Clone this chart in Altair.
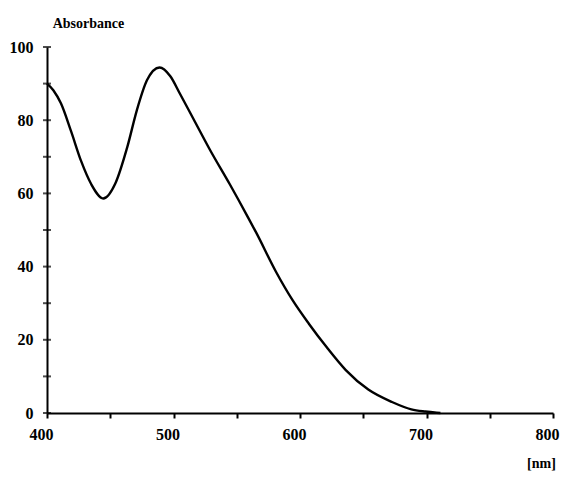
import altair as alt
import pandas as pd

wavelength = [400, 405, 411, 419, 427, 435, 444.5, 454, 463.5, 471, 479, 489, 497.5, 505, 516,
              529, 544.5, 559, 565.5, 581, 594, 607, 621, 636, 654, 672.7, 688, 699, 708, 711]
absorbance = [90, 88.2, 84.6, 77.0, 68.8, 62.5, 58.6, 62.7, 72.7, 82.7, 90.9, 94.4, 92.0, 87.3, 80.2,
              71.8, 62.5, 53.4, 49.2, 38.6, 30.9, 24.4, 18.0, 11.8, 6.4, 3.0, 1.0, 0.4, 0.08, 0]

x_ticks = list(range(400, 801, 25))
y_ticks = list(range(0, 101, 10))

df = pd.DataFrame({"nm": wavelength, "abs": absorbance})
ticks_df = pd.DataFrame({"nm": [400] * len(y_ticks), "abs": y_ticks})

FONT = "Liberation Serif"

xscale = alt.Scale(domain=[400, 800], nice=False, zero=False)
yscale = alt.Scale(domain=[0, 100], nice=False)

line = alt.Chart(df).mark_line(color="black", strokeWidth=2.4, interpolate="monotone").encode(
    x=alt.X("nm:Q", scale=xscale,
            axis=alt.Axis(values=x_ticks, labelExpr="datum.value % 100 == 0 ? datum.label : ''",
                          title="[nm]", titleAngle=0, titleX=494, titleY=50,
                          titleAlign="center", titleBaseline="middle",
                          titleFont=FONT, titleFontSize=14, titleFontWeight="bold",
                          labelFont=FONT, labelFontSize=16, labelFontWeight="bold",
                          labelOffset=-6, labelPadding=8, labelColor="black", labelFlush=False,
                          tickSize=5, tickWidth=2, tickColor="black",
                          domainColor="black", domainWidth=2, grid=False, titleColor="black")),
    y=alt.Y("abs:Q", scale=yscale,
            axis=alt.Axis(values=y_ticks, labelExpr="datum.value % 20 == 0 ? datum.label : ''",
                          title="Absorbance", titleAngle=0, titleX=41, titleY=-24,
                          titleAlign="center", titleBaseline="middle",
                          titleFont=FONT, titleFontSize=14, titleFontWeight="bold",
                          labelFont=FONT, labelFontSize=16, labelFontWeight="bold",
                          labelPadding=14, labelColor="black", labelFlush=False,
                          tickSize=0, domainColor="black", domainWidth=2, grid=False,
                          titleColor="black")),
)

yticks = alt.Chart(ticks_df).mark_tick(color="black", orient="horizontal", size=8, thickness=2).encode(
    x=alt.X("nm:Q", scale=xscale),
    y=alt.Y("abs:Q", scale=yscale),
)

chart = alt.layer(line, yticks).properties(
    width=506, height=366,
    background="white",
    autosize=alt.AutoSizeParams(type="none"),
    padding={"left": 39, "top": 39, "right": 9, "bottom": 60},
).configure_view(stroke=None)

chart.save("out.html", embed_options={"renderer": "svg", "actions": False})
